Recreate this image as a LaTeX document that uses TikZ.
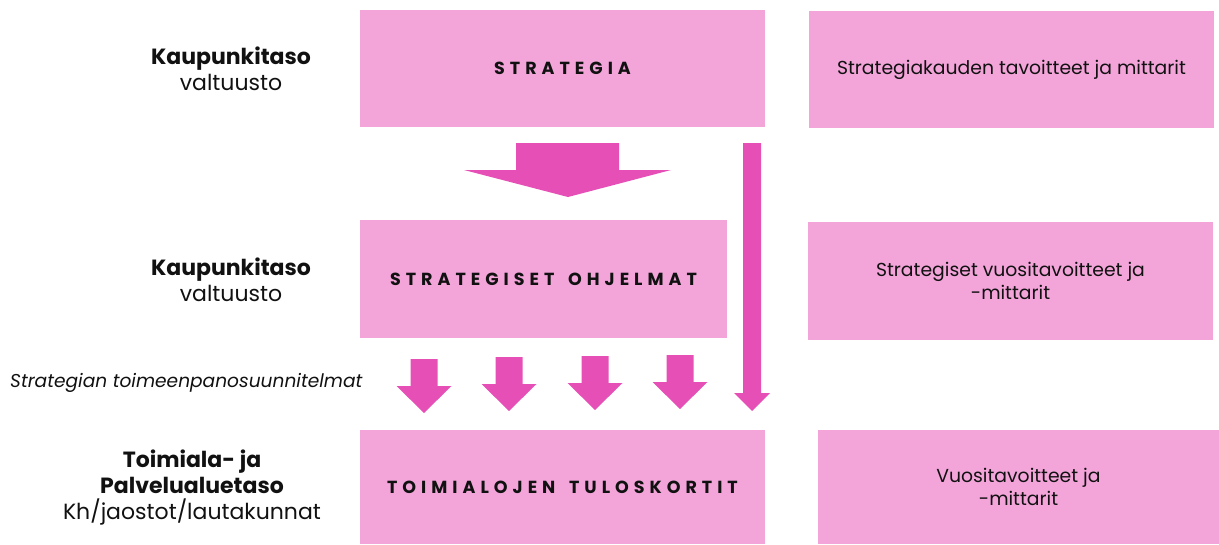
\documentclass[tikz,border=0pt]{standalone}
\usepackage{fontspec}
\setmainfont{Poppins}
\definecolor{boxpink}{HTML}{F3A5DA}
\definecolor{arrpink}{HTML}{E64FB5}
\definecolor{txt}{HTML}{111111}
\newdimen\spgap \spgap=5pt
\makeatletter
\def\spaced#1{\sp@x#1\relax}
\def\sp@x#1{\ifx#1\relax\unkern\else#1\kern\spgap\expandafter\sp@x\fi}
\makeatother
\tikzset{
  pinkbox/.style={fill=boxpink, draw=none, inner sep=0pt, text=txt, align=center},
  titlefont/.style={font=\bfseries\fontsize{17.5}{20}\selectfont},
  goalfont/.style={font=\fontsize{18.8}{23}\selectfont},
  levellabel/.style={inner sep=0pt, align=center, text=txt, font=\fontsize{22}{26}\selectfont},
  blockarrow/.style={fill=arrpink, draw=none},
}
\begin{document}
\begin{tikzpicture}[x=1pt, y=-1pt]
\useasboundingbox (0,0) rectangle (1219,544);
% boxes
\node[pinkbox, titlefont, minimum width=405pt, minimum height=117pt] (strat) at (562.5,68.5) {\spaced{STRATEGIA}};
\node[pinkbox, goalfont, minimum width=405pt, minimum height=117pt] (goal1) at (1011.5,69.5) {Strategiakauden tavoitteet ja mittarit};
\node[pinkbox, titlefont, minimum width=367pt, minimum height=118pt] (ohj) at (543.5,279) {\spaced{STRATEGISET~OHJELMAT}};
\node[pinkbox, goalfont, minimum width=405pt, minimum height=118pt] (goal2) at (1010.5,281) {Strategiset vuositavoitteet ja\\-mittarit};
\node[pinkbox, titlefont, minimum width=405pt, minimum height=114pt] (tulos) at (562.5,487) {\spaced{TOIMIALOJEN~TULOSKORTIT}};
\node[pinkbox, goalfont, minimum width=401pt, minimum height=114pt] (goal3) at (1018.5,487) {Vuositavoitteet ja\\-mittarit};
% level labels
\node[levellabel] (lvl1) at (231,69) {\textbf{Kaupunkitaso}\\valtuusto};
\node[levellabel] (lvl2) at (231,280) {\textbf{Kaupunkitaso}\\valtuusto};
\node[levellabel] (lvl3) at (192,488) {\textbf{Toimiala- ja}\\\textbf{Palvelualuetaso}\\Kh/jaostot/lautakunnat};
\node[inner sep=0pt, anchor=west, text=txt, font=\itshape\fontsize{18.6}{22}\selectfont] (impl) at (10,383) {Strategian toimeenpanosuunnitelmat};
% big arrow
\fill[blockarrow] (516,143) -- (619,143) -- (619,170) -- (671,170) -- (568,197) -- (464,170) -- (516,170) -- cycle;
% long arrow
\fill[blockarrow] (743,143) -- (761,143) -- (761,393) -- (770,393) -- (752,411) -- (734,393) -- (743,393) -- cycle;
% small arrows
\foreach \c/\t in {424/359, 509/357, 595/356, 680/355}{
  \fill[blockarrow] (\c-13.5,\t) -- (\c+13.5,\t) -- (\c+13.5,\t+27) -- (\c+27.5,\t+27) -- (\c,\t+54) -- (\c-27.5,\t+27) -- (\c-13.5,\t+27) -- cycle;
}
\end{tikzpicture}
\end{document}
